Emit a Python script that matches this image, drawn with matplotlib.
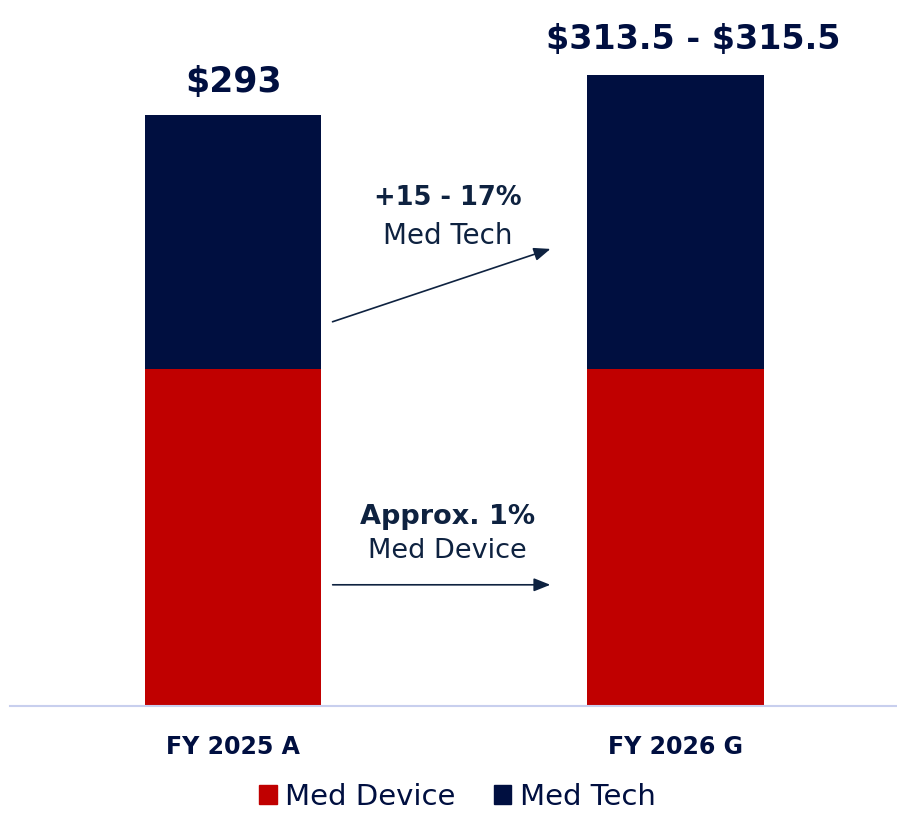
import matplotlib.pyplot as plt
from matplotlib.patches import Patch

# 數據
years = ["FY 2025 A", "FY 2026 G"]
med_device = [167, 167]
med_tech = [126, 146]
total_labels = [r"\$293", r"\$313.5 - \$315.5"]
tech_growth = "+15 - 17%"
device_growth = "Approx. 1%"

RED = "#C00000"
NAVY = "#000F40"
TXT = "#0E2240"

plt.rcParams['font.family'] = ['DejaVu Sans']

fig = plt.figure(figsize=(8.97, 8.15), dpi=100)
ax = fig.add_axes([0.011, 0.134, 0.989, 0.866])

x = list(range(len(years)))
width = 0.4
ax.bar(x, med_device, width, color=RED, label="Med Device")
ax.bar(x, med_tech, width, bottom=med_device, color=NAVY, label="Med Tech")

ax.set_xlim(-0.505, 1.502)
ax.set_ylim(0, 350)

# 總額標籤
totals = [d + t for d, t in zip(med_device, med_tech)]
ax.text(x[0], totals[0] + 8, total_labels[0], ha="center", va="bottom",
        fontsize=25, fontweight="bold", color=NAVY)
ax.text(x[1] + 0.04, totals[1] + 9, total_labels[1], ha="center", va="bottom",
        fontsize=24, fontweight="bold", color=NAVY)

# 箭頭與增長文字
arrow = dict(arrowstyle="-|>,head_length=1.0,head_width=0.4", color=TXT, lw=1.2)
ax.annotate("", xy=(0.724, 227), xytext=(0.219, 190), arrowprops=arrow)
ax.annotate("", xy=(0.724, 60), xytext=(0.219, 60), arrowprops=arrow)
ax.text(0.485, 252, tech_growth, ha="center", va="center", fontsize=18.5,
        fontweight="bold", color=TXT)
ax.text(0.485, 233, "Med Tech", ha="center", va="center", fontsize=20, color=TXT)
ax.text(0.485, 93.5, device_growth, ha="center", va="center", fontsize=19.5,
        fontweight="bold", color=TXT)
ax.text(0.485, 77, "Med Device", ha="center", va="center", fontsize=19.5, color=TXT)

# 座標軸
for s in ["top", "right", "left"]:
    ax.spines[s].set_visible(False)
ax.spines["bottom"].set_color("#C8CFEE")
ax.spines["bottom"].set_linewidth(1.5)
ax.set_yticks([])
ax.set_xticks(x)
ax.set_xticklabels(years, fontsize=17, fontweight="bold", color=NAVY)
ax.tick_params(axis="x", length=0, pad=21)

handles = [Patch(color=RED, label="Med Device"), Patch(color=NAVY, label="Med Tech")]
fig.legend(handles=handles, loc="lower center", bbox_to_anchor=(0.51, -0.027), ncol=2,
           frameon=False, fontsize=21, handlelength=0.6, handleheight=0.6,
           handletextpad=0.3, columnspacing=1.3, labelcolor=NAVY)

fig.savefig("out.png", dpi=100)
